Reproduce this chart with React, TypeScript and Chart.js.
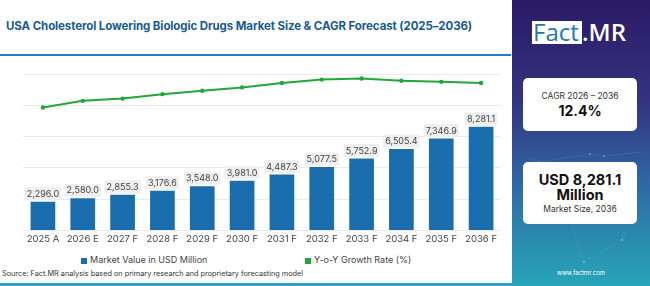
import React, { useEffect, useRef } from "react";
import { Chart, registerables } from "chart.js";

Chart.register(...registerables);

const years = ["2025 A", "2026 E", "2027 F", "2028 F", "2029 F", "2030 F", "2031 F", "2032 F", "2033 F", "2034 F", "2035 F", "2036 F"];
const marketValue = [2296.0, 2580.0, 2855.3, 3176.6, 3548.0, 3981.0, 4487.3, 5077.5, 5752.9, 6505.4, 7346.9, 8281.1];
const growthRate = [11.0, 11.6, 11.8, 12.2, 12.5, 12.8, 13.2, 13.5, 13.6, 13.4, 13.3, 13.2];
const valueAxisMax = 12500;
const valueAxisStep = 2500;
const growthAxisMax = 14;

const BAR_BLUE = "#1b6eae";
const LINE_GREEN = "#22a83a";
const FONT = "Inter, 'Open Sans', sans-serif";

// Value boxes above each bar of the market-value dataset
const valueLabels = {
  id: "valueLabels",
  afterDatasetsDraw(chart: any) {
    const meta = chart.getDatasetMeta(1);
    const ctx = chart.ctx;
    ctx.save();
    ctx.font = `400 9px ${FONT}`;
    ctx.textAlign = "center";
    ctx.textBaseline = "middle";
    meta.data.forEach((bar: any, i: number) => {
      const text = marketValue[i].toLocaleString("en-US", { minimumFractionDigits: 1, maximumFractionDigits: 1 });
      const w = ctx.measureText(text).width + 4;
      const h = 13;
      const cy = bar.y - 8;
      ctx.fillStyle = "rgba(238,238,238,0.95)";
      ctx.fillRect(bar.x - w / 2, cy - h / 2, w, h);
      ctx.fillStyle = "#444";
      ctx.fillText(text, bar.x, cy + 0.5);
    });
    ctx.restore();
  },
};

function MarketChart() {
  const ref = useRef<HTMLCanvasElement>(null);
  useEffect(() => {
    if (!ref.current) return;
    const chart = new Chart(ref.current, {
      data: {
        labels: years,
        datasets: [
          {
            type: "line",
            label: "Y-o-Y Growth Rate (%)",
            data: growthRate,
            yAxisID: "y2",
            borderColor: LINE_GREEN,
            backgroundColor: LINE_GREEN,
            borderWidth: 2,
            pointRadius: 2.2,
            pointBackgroundColor: LINE_GREEN,
            pointBorderWidth: 0,
            tension: 0,
            order: 0,
          },
          {
            type: "bar",
            label: "Market Value in USD Million",
            data: marketValue,
            yAxisID: "y",
            backgroundColor: BAR_BLUE,
            barPercentage: 0.62,
            categoryPercentage: 1,
            order: 1,
          },
        ],
      } as any,
      options: {
        animation: false,
        responsive: false,
        maintainAspectRatio: false,
        layout: { padding: { left: 23, right: 9, top: 11, bottom: 0 } },
        plugins: { legend: { display: false }, tooltip: { enabled: false } },
        scales: {
          x: {
            grid: { display: false, drawTicks: false },
            border: { display: false },
            ticks: { color: "#444", font: { family: FONT, size: 9.5 }, padding: 3, maxRotation: 0 },
          },
          y: {
            display: true,
            min: 0,
            max: valueAxisMax,
            ticks: { display: false, stepSize: valueAxisStep },
            grid: { color: "#ebebeb", drawTicks: false, lineWidth: 1 },
            border: { display: false },
          },
          y2: {
            display: false,
            min: 0,
            max: growthAxisMax,
          },
        },
      },
      plugins: [valueLabels],
    });
    return () => chart.destroy();
  }, []);
  return <canvas ref={ref} width={510} height={185} style={{ position: "absolute", left: 0, top: 63, width: 510, height: 185 }} />;
}

export default function App() {
  return (
    <div style={{ position: "absolute", left: 0, top: 0, width: 650, height: 286, background: "#fff", overflow: "hidden", fontFamily: FONT }}>
      <div style={{ position: "absolute", left: 6, top: 19, fontSize: 11.5, fontWeight: 700, color: "#1a5a8e", whiteSpace: "nowrap", letterSpacing: -0.1 }}>
        USA Cholesterol Lowering Biologic Drugs Market Size &amp; CAGR Forecast (2025–2036)
      </div>
      <div style={{ position: "absolute", left: 0, top: 54, width: 511, height: 2, background: "#2b7cc0" }} />
      <MarketChart />
      <div style={{ position: "absolute", left: 81, top: 258, width: 6, height: 6, background: BAR_BLUE }} />
      <div style={{ position: "absolute", left: 90, top: 254, fontSize: 9, color: "#444", whiteSpace: "nowrap" }}>Market Value in USD Million</div>
      <div style={{ position: "absolute", left: 305, top: 258, width: 6, height: 6, background: LINE_GREEN }} />
      <div style={{ position: "absolute", left: 314, top: 254, fontSize: 9, color: "#444", whiteSpace: "nowrap" }}>Y-o-Y Growth Rate (%)</div>
      <div style={{ position: "absolute", left: 2, top: 269, fontSize: 7.3, color: "#333", whiteSpace: "nowrap" }}>
        Source: Fact.MR analysis based on primary research and proprietary forecasting model
      </div>
      <div style={{ position: "absolute", left: 0, top: 283, width: 650, height: 3, background: "#2aa3c4" }} />
      <div style={{ position: "absolute", left: 512, top: 0, width: 138, height: 286, background: "linear-gradient(180deg, #2b1a66 0%, #33337f 35%, #2f6aa6 65%, #27a6b8 100%)" }}>
        <svg width={138} height={286} style={{ position: "absolute", left: 0, top: 0 }}>
          <g stroke="rgba(255,255,255,0.12)" strokeWidth={0.6} fill="rgba(255,255,255,0.25)">
            <line x1={16} y1={158} x2={27} y2={162} />
            <line x1={27} y1={162} x2={78} y2={154} />
            <line x1={78} y1={154} x2={92} y2={156} />
            <line x1={92} y1={156} x2={130} y2={152} />
            <line x1={60} y1={225} x2={72} y2={262} />
            <line x1={72} y1={262} x2={110} y2={240} />
            <line x1={110} y1={240} x2={116} y2={228} />
            <circle cx={27} cy={162} r={0.9} />
            <circle cx={78} cy={154} r={0.9} />
            <circle cx={92} cy={156} r={0.9} />
            <circle cx={72} cy={262} r={0.9} />
            <circle cx={110} cy={240} r={0.9} />
          </g>
        </svg>
        <div style={{ position: "absolute", left: 20, top: 21, width: 50, height: 23, background: "#fff" }} />
        <div style={{ position: "absolute", left: 21, top: 17, fontSize: 24, color: "#1f78b0", whiteSpace: "nowrap", fontFamily: "'Open Sans', sans-serif", lineHeight: "30px" }}>Fact</div>
        <div style={{ position: "absolute", left: 70, top: 17, fontSize: 24, color: "#fff", fontWeight: 600, whiteSpace: "nowrap", fontFamily: "'Open Sans', sans-serif", lineHeight: "30px" }}>.MR</div>
        <div style={{ position: "absolute", left: 11, top: 78, width: 114, height: 53, background: "#fff", borderRadius: 5, textAlign: "center" }}>
          <div style={{ marginTop: 13, fontSize: 8.5, color: "#333" }}>CAGR 2026 – 2036</div>
          <div style={{ marginTop: 1, fontSize: 14, fontWeight: 700, color: "#111" }}>12.4%</div>
        </div>
        <div style={{ position: "absolute", left: 11, top: 162, width: 114, height: 62, background: "#fff", borderRadius: 5, textAlign: "center" }}>
          <div style={{ marginTop: 10, fontSize: 14.5, fontWeight: 700, color: "#111", lineHeight: "15px" }}>USD 8,281.1</div>
          <div style={{ fontSize: 14.5, fontWeight: 700, color: "#111", lineHeight: "15px" }}>Million</div>
          <div style={{ marginTop: 2, fontSize: 8.5, color: "#333" }}>Market Size, 2036</div>
        </div>
        <div style={{ position: "absolute", left: 0, top: 269, width: 138, textAlign: "center", fontSize: 6, color: "#fff" }}>www.factmr.com</div>
      </div>
    </div>
  );
}
